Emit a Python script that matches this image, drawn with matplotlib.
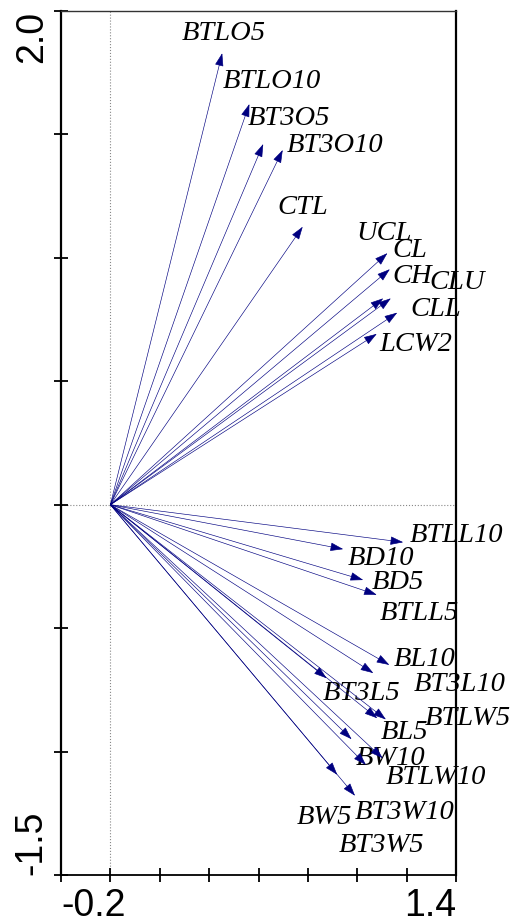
import matplotlib
matplotlib.use("Agg")
from matplotlib import pyplot as plt

# arrow tips (axis 1, axis 2) for each variable
names = ['BTLO5', 'BTLO10', 'BT3O5', 'BT3O10', 'CTL',
         'UCL', 'CL', 'CH', 'CLU', 'CLL', 'LCW2',
         'BTLL10', 'BD10', 'BD5', 'BTLL5',
         'BL10', 'BT3L10', 'BT3L5', 'BTLW5', 'BL5',
         'BW10', 'BTLW10', 'BT3W10', 'BW5', 'BT3W5']
ax1 = [0.453, 0.563, 0.619, 0.698, 0.779,
       1.122, 1.132, 1.105, 1.136, 1.162, 1.079,
       1.186, 0.943, 1.024, 1.079,
       1.130, 1.065, 0.876, 1.116, 1.081,
       0.977, 1.103, 0.991, 0.919, 1.035]
ax2 = [1.829, 1.623, 1.461, 1.437, 1.126,
       1.019, 0.954, 0.836, 0.836, 0.778, 0.692,
       -0.152, -0.180, -0.305, -0.365,
       -0.649, -0.682, -0.703, -0.870, -0.865,
       -0.950, -1.027, -1.179, -1.094, -1.054]

# label placement relative to the tip (pixels)
label_off = [(-40, 20), (-27, 23), (-15, 26), (4, 4), (-25, 19),
             (-31, 20), (3, 19), (9, 22), (39, 16), (13, 3), (3, -11),
             (7, 7), (5, -9), (9, -2), (3, -19),
             (4, 5), (40, -11), (-4, -15), (39, 1), (3, -14),
             (4, -19), (3, -19), (0, -17), (-41, -43), (-27, -81)]

fig = plt.figure(figsize=(5.16, 9.24), dpi=100)
ax = fig.add_axes([61 / 516, 49 / 924, 395 / 516, 864 / 924])
ax.set_xlim(-0.2, 1.4)
ax.set_ylim(-1.5, 2.0)

ax.axvline(0, color='#888888', lw=0.8, ls=':', zorder=1)
ax.axhline(0, color='#888888', lw=0.8, ls=':', zorder=1)

navy = '#000080'
for n, x, y, off in zip(names, ax1, ax2, label_off):
    ax.annotate('', xy=(x, y), xytext=(0, 0),
                arrowprops=dict(arrowstyle='-|>,head_length=0.9,head_width=0.3',
                                color=navy, lw=0.45, mutation_scale=9,
                                shrinkA=0, shrinkB=0))
    ax.annotate(n, xy=(x, y), xytext=off, textcoords='offset pixels',
                ha='left', va='center', fontsize=20.5, style='italic',
                family='Liberation Serif', color='black', annotation_clip=False)

for s in ['left', 'right']:
    ax.spines[s].set_linewidth(1.6)
ax.spines['bottom'].set_linewidth(1.3)
ax.spines['top'].set_linewidth(1.0)
ax.spines['top'].set_color('#333333')

ax.set_xticks([-0.2, 0.0, 0.2, 0.4, 0.6, 0.8, 1.0, 1.2, 1.4])
ax.set_xticklabels(['-0.2', '', '', '', '', '', '', '', '1.4'],
                   family='Liberation Sans', fontsize=27)
xl = ax.get_xticklabels()
xl[0].set_ha('left')
xl[-1].set_ha('right')

ax.set_yticks([-1.5, -1.0, -0.5, 0.0, 0.5, 1.0, 1.5, 2.0])
ax.set_yticklabels(['-1.5', '', '', '', '', '', '', '2.0'],
                   family='Liberation Sans', fontsize=27, rotation=90)
yl = ax.get_yticklabels()
yl[0].set_va('bottom')
yl[-1].set_va('top')
for t in yl:
    t.set_ha('center')

ax.tick_params(axis='both', direction='inout', length=10, width=1.3, colors='black')
ax.tick_params(axis='x', pad=4)
ax.tick_params(axis='y', pad=16)

fig.savefig('out.png', dpi=100)
